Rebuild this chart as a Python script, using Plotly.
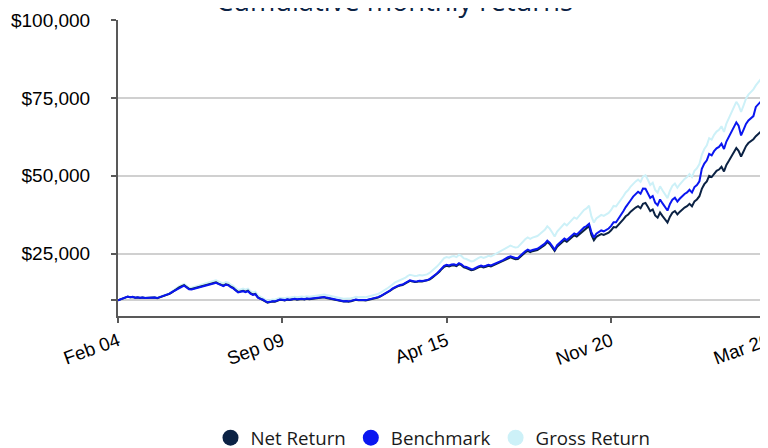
import plotly.graph_objects as go
import pandas as pd

start_month = "2004-02-01"
end_month = "2026-03-01"

net_return = [
    10000, 10250, 10600, 10900, 11200, 11000, 11100, 10850, 10950, 10800, 10900,
    10750, 10850, 10700, 10800, 10900, 10700, 10950, 11300, 11600, 11900, 12100, 12600,
    13200, 13700, 14200, 14600, 14900, 14300, 13700, 13650, 13900, 14000, 14200, 14500,
    14800, 15000, 15250, 15400, 15600, 15800, 15400, 14950, 14750, 15200, 15000, 14400,
    14000, 13300, 12700, 12900, 13100, 12800, 13100, 12300, 11900, 12100, 11000, 10600,
    10200, 9700, 9300, 9450, 9650, 9600, 9900, 10200, 10100, 10000, 10250, 10150,
    10300, 10450, 10250, 10350, 10450, 10300, 10500, 10400, 10500, 10650, 10550, 10750,
    10900, 11000, 10800, 10600, 10450, 10250, 10100, 9950, 9800, 9650, 9700, 9600,
    9750, 9950, 10200, 10050, 9950, 10050, 10000, 10150, 10350, 10500, 10700, 10950,
    11300, 11700, 12100, 12600, 13100, 13700, 14200, 14500, 14800, 14950, 15400, 15900,
    16300, 16100, 15900, 16000, 16150, 16050, 16200, 16300, 16700, 17200, 17800, 18450,
    19200, 20100, 20800, 21100, 20900, 21200, 21300, 21000, 21650, 21300, 20600, 20400,
    20000, 19700, 19800, 20300, 20600, 20900, 20600, 20800, 21100, 20900, 21300, 21700,
    21950, 22300, 22600, 23100, 23500, 23800, 23500, 23250, 23300, 24100, 24800, 25400,
    25900, 25500, 25800, 26000, 26200, 26700, 27300, 27800, 28750, 28100, 27000, 25900,
    27200, 28000, 28600, 29300, 28800, 29600, 30200, 30900, 30500, 31200, 31900, 32800,
    33200, 33900, 31000, 29300, 30400, 30900, 31300, 31000, 31400, 31750, 32500, 33550,
    33400, 34200, 35200, 36000, 37000, 37600, 38500, 39200, 39800, 40250, 39600, 41000,
    41300, 40000, 38650, 39200, 37300, 36550, 38200, 37050, 36000, 35000, 36900, 38150,
    38700, 37600, 38400, 39200, 39800, 40250, 41000, 40200, 41800, 42400, 43450, 45800, 47300, 48200,
    50000, 49600, 50800, 51600, 52000, 52900, 51400, 53500, 54800, 56200,
    57500, 58900, 58000, 56200, 57800, 59500, 60500, 61000, 61750, 62700, 63500, 64200, 63700, 63150, 63450,
]

benchmark = [
    10000, 10300, 10650, 10950, 11260, 11060, 11160, 10900, 11000, 10850, 10950,
    10800, 10900, 10750, 10850, 10950, 10750, 11000, 11360, 11660, 11960, 12160, 12660,
    13070, 13560, 14060, 14450, 14750, 14160, 13560, 13510, 13760, 13860, 14060, 14360,
    14650, 14850, 15100, 15250, 15440, 15640, 15250, 14800, 14600, 15050, 14850, 14260,
    13860, 13170, 12570, 12770, 12970, 12670, 12970, 12180, 11780, 11980, 10890, 10490,
    10300, 9800, 9390, 9540, 9750, 9700, 10000, 10300, 10200, 10100, 10350, 10250,
    10400, 10550, 10350, 10450, 10550, 10400, 10610, 10500, 10610, 10760, 10660, 10860,
    11010, 11110, 10910, 10710, 10550, 10350, 10200, 10050, 9900, 9750, 9800, 9700,
    9850, 10050, 10300, 10150, 10050, 10150, 10100, 10250, 10450, 10610, 10810, 11060,
    11410, 11820, 12220, 12730, 13230, 13840, 14340, 14650, 14950, 15100, 15550, 16060,
    16460, 16260, 16060, 16160, 16310, 16210, 16360, 16460, 16870, 17370, 17980, 18630,
    19490, 20400, 21110, 21420, 21210, 21520, 21620, 21320, 21980, 21620, 20910, 20710,
    20300, 20000, 20100, 20600, 20910, 21210, 20910, 21110, 21420, 21210, 21620, 22030,
    22280, 22630, 22940, 23450, 23850, 24160, 23850, 23600, 23650, 24460, 25170, 25780,
    26290, 25880, 26190, 26390, 26590, 27100, 27710, 28220, 29180, 28520, 27410, 26290,
    27740, 28560, 29170, 29890, 29380, 30190, 30800, 31520, 31110, 31820, 32540, 33460,
    33860, 34580, 31930, 30180, 31400, 31980, 32460, 32180, 32660, 33080, 33930, 35090,
    35070, 36180, 37520, 38630, 39960, 40910, 42160, 43320, 44180, 44880, 44270, 45920,
    45840, 44400, 42900, 43510, 41400, 40570, 42400, 41130, 39960, 38850, 40960, 42350,
    42960, 41740, 42620, 43510, 44180, 44680, 45510, 44620, 46400, 47060, 48230, 52210, 53920, 54950,
    57000, 56540, 57910, 58820, 59280, 60310, 58600, 60990, 62470, 64070,
    65550, 67150, 66120, 62940, 64740, 66640, 67760, 68320, 69160, 72100, 73030, 73830, 72600, 70400, 69000,
]

gross_return = [
    10000, 10260, 10620, 10930, 11250, 11050, 11170, 10930, 11040, 10900, 11010,
    10870, 10980, 10840, 10950, 11060, 10870, 11140, 11500, 11820, 12140, 12350, 12880,
    13500, 14030, 14560, 14980, 15300, 14700, 14100, 14060, 14330, 14450, 14670, 14990,
    15320, 15540, 15810, 15990, 16210, 16430, 16030, 15580, 15380, 15870, 15680, 15060,
    14660, 13940, 13320, 13550, 13770, 13470, 13790, 12960, 12550, 12780, 11630, 11210,
    10800, 10280, 9870, 10040, 10260, 10210, 10540, 10870, 10780, 10680, 10960, 10860,
    11030, 11200, 11000, 11120, 11230, 11080, 11310, 11210, 11330, 11500, 11400, 11630,
    11800, 11920, 11720, 11510, 11360, 11150, 11000, 10850, 10690, 10540, 10600, 10500,
    10680, 10910, 11190, 11030, 10940, 11060, 11010, 11190, 11420, 11590, 11820, 12110,
    12510, 12960, 13420, 13990, 14550, 15230, 15800, 16150, 16500, 16680, 17200, 17780,
    18240, 18030, 17820, 17950, 18140, 18040, 18230, 18350, 18820, 19400, 20100, 20850,
    21720, 22750, 23570, 23930, 23720, 24080, 24220, 23900, 24660, 24280, 23500, 23300,
    22860, 22540, 22670, 23260, 23630, 23990, 23670, 23920, 24290, 24080, 24560, 25040,
    25350, 25780, 26150, 26750, 27240, 27610, 27280, 27020, 27100, 28050, 28890, 29620,
    30230, 29780, 30160, 30420, 30680, 31290, 32020, 32640, 33780, 33050, 31780, 30510,
    32070, 33040, 33780, 34630, 34070, 35050, 35790, 36650, 36200, 37070, 37930, 39030,
    39540, 40410, 36980, 34980, 36330, 36960, 37470, 37140, 37650, 38100, 39030, 40330,
    40180, 41180, 42420, 43420, 44660, 45420, 46550, 47430, 48200, 48780, 48030, 49770,
    50180, 48640, 47040, 47750, 45470, 44590, 46640, 45280, 44030, 42840, 45200, 46770,
    47490, 46170, 47190, 48220, 48990, 49590, 50550, 49610, 51620, 52410, 53750, 56700, 58600, 59770,
    62050, 61600, 63140, 64190, 64740, 65910, 64100, 66770, 68450, 70250,
    71930, 73740, 72670, 70470, 72540, 74730, 76050, 76740, 77740, 79000, 80070, 81020, 80450, 79820, 80260,
]

x_tick_dates = ["2004-02-01", "2009-09-01", "2015-04-01", "2020-11-01", "2026-03-01"]
x_tick_labels = ["Feb 04", "Sep 09", "Apr 15", "Nov 20", "Mar 26"]
y_tick_values = [10000, 25000, 50000, 75000, 100000]
y_tick_labels = ["", "$25,000", "$50,000", "$75,000", "$100,000"]

series_names = ["Net Return", "Benchmark", "Gross Return"]
series_colors = ["#0b2244", "#0a16f0", "#cdf1f8"]
chart_title = "Cumulative monthly returns"

months = pd.date_range(start_month, end_month, freq="MS")

fig = go.Figure()

# draw order: gross (bottom), net, benchmark (top)
series_data = [net_return, benchmark, gross_return]
for idx in [2, 0, 1]:
    fig.add_trace(go.Scatter(
        x=months, y=series_data[idx], mode="lines",
        line=dict(color=series_colors[idx], width=2),
        showlegend=False, hoverinfo="skip", cliponaxis=False,
    ))

for name, color in zip(series_names, series_colors):
    fig.add_trace(go.Scatter(
        x=[None], y=[None], mode="markers", name=name,
        marker=dict(color=color, size=16, symbol="circle"),
    ))

# the page body adds an 8px offset; margins are set in figure coordinates
fig.update_layout(
    width=768, height=448,
    margin=dict(l=110, r=8, t=11.5, b=139.5, autoexpand=False),
    paper_bgcolor="white", plot_bgcolor="white",
    showlegend=True,
    legend=dict(
        orientation="h", x=425 / 768, xanchor="center", xref="container",
        y=18 / 448, yanchor="middle", yref="container",
        font=dict(family="Open Sans", size=18.7, color="#1a1a1a"),
        itemsizing="trace",
    ),
    annotations=[dict(
        text=chart_title, showarrow=False,
        xref="paper", yref="paper",
        x=(386 - 110) / 650, xanchor="center",
        y=1 + 19.5 / 297, yanchor="middle",
        font=dict(family="Open Sans", size=27.3, color="#0b2244"),
    )],
)

fig.update_xaxes(
    type="date",
    range=[start_month, end_month],
    tickmode="array", tickvals=x_tick_dates, ticktext=x_tick_labels,
    tickangle=-20,
    tickfont=dict(family="Liberation Sans", size=18.7, color="#000000"),
    showgrid=False, zeroline=False,
    showline=True, linecolor="#595959", linewidth=2,
    ticks="outside", ticklen=5, tickwidth=2, tickcolor="#595959",
    ticklabelstandoff=0, automargin=False,
)

fig.update_yaxes(
    range=[5000, 100000],
    tickmode="array", tickvals=y_tick_values, ticktext=y_tick_labels,
    tickfont=dict(family="Liberation Sans", size=19.0, color="#000000"),
    showgrid=True, gridcolor="#d0d0d0", gridwidth=1.5, zeroline=False,
    showline=True, linecolor="#595959", linewidth=2,
    ticks="outside", ticklen=5, tickwidth=2, tickcolor="#595959",
    ticklabelstandoff=17, automargin=False,
)

fig.write_html("out.html")
